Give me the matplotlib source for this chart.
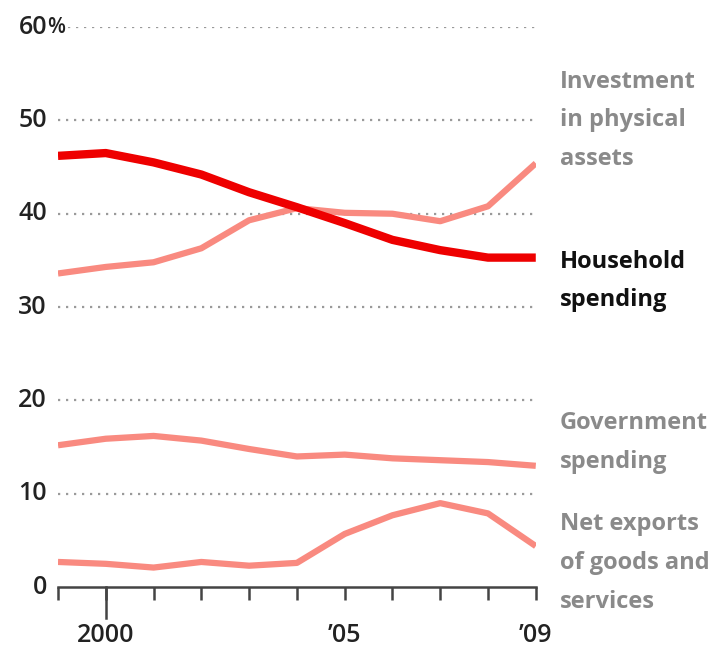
import numpy as np
import matplotlib
matplotlib.use("Agg")
import matplotlib.pyplot as plt

plt.rcParams['font.family'] = ['Open Sans', 'DejaVu Sans']

years = np.arange(1999, 2010)

household = [46.2, 46.5, 45.5, 44.2, 42.3, 40.7, 39.0, 37.2, 36.1, 35.3, 35.3]
investment = [33.6, 34.3, 34.8, 36.3, 39.3, 40.6, 40.1, 40.0, 39.2, 40.8, 45.4]
government = [15.2, 15.9, 16.2, 15.7, 14.8, 14.0, 14.2, 13.8, 13.6, 13.4, 13.0]
net_exports = [2.7, 2.5, 2.1, 2.7, 2.3, 2.6, 5.7, 7.7, 9.0, 7.9, 4.4]

y_ticks = [0, 10, 20, 30, 40, 50, 60]
x_labels = {2000: "2000", 2005: "\u201905", 2009: "\u201909"}

red = "#ee0000"
salmon = "#f98a80"
grey_text = "#8a8a8a"

fig = plt.figure(figsize=(7.25, 6.59), dpi=100)
ax = fig.add_axes([0.080, 0.109, 0.659, 0.850])
ax.set_xlim(1999, 2009)
ax.set_ylim(0, 60)

# dotted guide lines
for v in y_ticks[1:]:
    start = 1999.2 if v == 60 else 1999
    ax.plot([start, 2009], [v, v], color="#9a9a9a", lw=1.6,
            linestyle=(0, (1, 2.6)), zorder=1)

ax.plot(years, investment, color=salmon, lw=4.5, solid_capstyle="butt", zorder=3)
ax.plot(years, government, color=salmon, lw=4.5, solid_capstyle="butt", zorder=3)
ax.plot(years, net_exports, color=salmon, lw=4.5, solid_capstyle="butt", zorder=3)
ax.plot(years, household, color=red, lw=6, solid_capstyle="butt", zorder=4)

for s in ["top", "right", "left"]:
    ax.spines[s].set_visible(False)
ax.spines["bottom"].set_color("#444444")
ax.spines["bottom"].set_linewidth(1.8)

ax.set_yticks([])
ax.set_xticks(years)
ax.set_xticklabels([])
ax.tick_params(axis="x", length=9, width=1.8, color="#444444", direction="out")

# longer tick under 2000
ax.plot([2000, 2000], [0, -3.3], color="#444444", lw=1.8, clip_on=False)

for v in y_ticks:
    ax.text(1998.77, v, str(v), ha="right", va="center", fontsize=18,
            color="#222222", fontweight="semibold")
ax.text(1998.77, 60, "%", ha="left", va="center", fontsize=15,
        color="#222222", fontweight="semibold")

for yr, lab in x_labels.items():
    ax.text(yr, -5.2, lab, ha="center", va="center", fontsize=18,
            color="#222222", fontweight="semibold")

labels = [
    ("Investment\nin physical\nassets", 50.0, grey_text),
    ("Household\nspending", 32.8, "#111111"),
    ("Government\nspending", 15.5, grey_text),
    ("Net exports\nof goods and\nservices", 2.6, grey_text),
]
for text, y, c in labels:
    ax.text(2009.5, y, text, ha="left", va="center", fontsize=17,
            color=c, fontweight="bold", linespacing=1.82, clip_on=False)

fig.savefig("out.png", dpi=100)
